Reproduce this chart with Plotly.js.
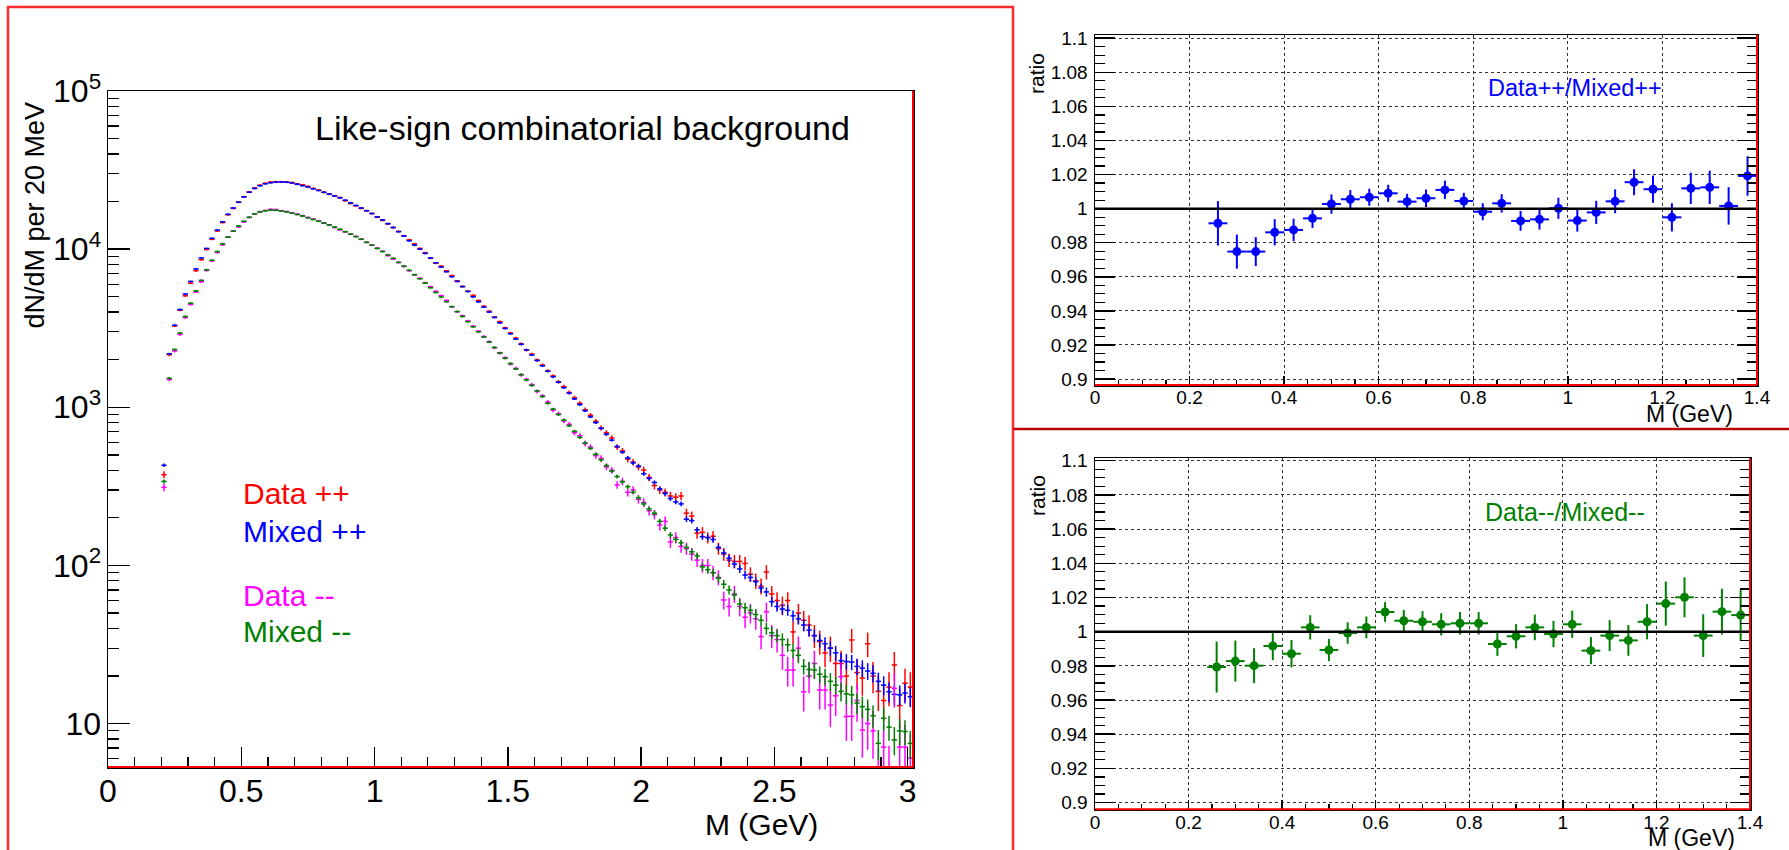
<!DOCTYPE html>
<html>
<head>
<meta charset="utf-8">
<script src="https://cdn.plot.ly/plotly-3.0.1.min.js"></script>
<style>
  html, body { margin: 0; padding: 0; background: #fff; }
  #chart { width: 1789px; height: 850px; }
</style>
</head>
<body>
<div id="chart"></div>
<script>
// ---------------- DATA ----------------
// Main panel: 20 MeV bins, first bin centre 0.21 GeV, last 3.01 GeV (141 bins)
const binStart = 0.21;
const binWidth = 0.02;

const mixedPP = [
  430, 2180, 3300, 4150, 5200, 6250, 7500, 8800, 10100, 11700, 13200, 14900, 16600, 18200, 19800,
  21400, 22900, 24200, 25200, 25900, 26300, 26500, 26600, 26500, 26200, 25700, 25200, 24700, 24100, 23500,
  22900, 22300, 21700, 21100, 20400, 19600, 18900, 18200, 17500, 16800,
  16000, 15300, 14500, 13700, 12900, 12100, 11300, 10600, 10000, 9400, 8800, 8200, 7700, 7200, 6700,
  6250, 5800, 5400, 5000, 4650, 4300, 4000, 3700, 3420, 3150,
  2920, 2700, 2500, 2310, 2140, 1975, 1830, 1690, 1560, 1440, 1330, 1230, 1130, 1040, 950,
  870, 800, 735, 675, 620, 565, 520, 478, 445, 425,
  380, 355, 335, 305, 285, 265, 252, 245, 196, 192, 168, 152, 150, 146, 130,
  120, 111, 102, 95, 87, 84, 79, 72, 68, 59,
  55, 53, 52, 48, 46, 42, 39, 36, 33.5, 32, 30, 28, 25, 24.7, 24.5,
  23, 22.4, 21.5, 20.8, 18.5, 17.5, 15.9, 15.3, 15.2, 15.6, 14.8
];
const dataPP = [
  375, 2150, 3270, 4110, 5070, 6090, 7310, 8580, 9960, 11540, 13030, 14720, 16500, 18100, 19850,
  21450, 23000, 24350, 25350, 26100, 26550, 26700, 26700, 26600, 26350, 25850, 25500, 24950, 24200, 23600,
  22850, 22250, 21750, 21200, 20250, 19450, 18800, 18100, 17500, 16800,
  15900, 15200, 14450, 13700, 12950, 12150, 11450, 10800, 10100, 9500, 8750, 8150, 7800, 7300, 6800,
  6300, 5800, 5420, 5100, 4730, 4350, 4050, 3720, 3480, 3180,
  2950, 2740, 2520, 2300, 2170, 1990, 1850, 1700, 1580, 1450, 1350, 1240, 1150, 1060, 965,
  890, 815, 740, 690, 640, 560, 530, 470, 450, 420,
  401, 360, 320, 300, 290, 275, 270, 275, 214, 205, 160, 162, 150, 153, 128,
  118, 108, 106, 106, 103, 88, 80, 74, 91, 66,
  60, 56, 60, 38, 50, 45, 42, 36, 33, 28, 30, 24, 24, 20, 33.8,
  21, 19.4, 32, 20, 16, 14, 17, 23.5, 13, 18, 17
];
const mixedMM = [
  340, 1525, 2320, 2950, 3750, 4550, 5450, 6350, 7400, 8500, 9650, 10800, 11900, 13000, 14000,
  15000, 15900, 16700, 17200, 17500, 17650, 17600, 17400, 17200, 16900, 16550, 16200, 15800, 15400, 15000,
  14600, 14200, 13800, 13350, 12900, 12450, 12000, 11550, 11050, 10600,
  10100, 9650, 9200, 8750, 8250, 7800, 7350, 6900, 6500, 6100, 5700, 5320, 4980, 4650, 4330,
  4030, 3750, 3480, 3230, 3000, 2780, 2580, 2390, 2210, 2040,
  1890, 1745, 1610, 1490, 1375, 1270, 1170, 1060, 975, 900, 830, 765, 705, 645, 595,
  550, 505, 465, 428, 395, 365, 338, 315, 290, 268,
  245, 228, 214, 190, 172, 156, 146, 139, 130, 122, 115, 98, 94, 90, 83,
  76, 70, 65, 57, 54, 52, 49, 45, 40, 37.5,
  36, 34, 31.5, 29, 27, 23, 22, 21.8, 20.5, 19.8, 18.5, 17.5, 16, 15.4, 15.2,
  13.5, 12.8, 12.3, 11.2, 7.5, 10.8, 9.5, 7.9, 9.0, 8.9, 7.5
];
const dataMM = [
  312, 1500, 2270, 2890, 3690, 4470, 5350, 6220, 7330, 8430, 9530, 10650, 11930, 13030, 13850,
  14850, 15880, 16680, 17250, 17530, 17850, 17800, 17500, 17300, 17000, 16650, 16270, 15870, 15480, 15070,
  14670, 14270, 13700, 13250, 12870, 12410, 12030, 11580, 11030, 10590,
  10140, 9690, 9100, 8650, 8230, 7780, 7310, 6870, 6540, 6130, 5790, 5410, 5080, 4740, 4320,
  4020, 3790, 3520, 3260, 3030, 2800, 2600, 2380, 2200, 2060,
  1880, 1760, 1600, 1500, 1390, 1260, 1180, 1080, 960, 910, 820, 780, 690, 660, 590,
  560, 495, 475, 420, 400, 323, 340, 290, 300, 262,
  250, 222, 210, 180, 190, 141, 150, 132, 128, 118, 108, 100, 100, 90, 84,
  60.5, 55, 66, 55, 47, 50, 46, 35.5, 51, 36,
  34, 27, 21.8, 21.8, 30, 15.9, 20, 24, 16.3, 16.3, 13.1, 15, 19.8, 11.1, 11.1,
  14, 9.1, 10, 9, 4.8, 7.1, 5, 16.7, 7.1, 7.1, 6.05
];
// statistical errors of the (normalised) mixed-event spectra
const mixedPPErr = [
  11, 26, 32, 35, 40, 43, 48, 52, 55, 59, 63, 67, 71, 74, 77,
  80, 83, 86, 87, 89, 89, 90, 90, 89, 89, 88, 87, 86, 85, 84, 83, 82, 81, 80, 79, 77, 76, 74, 73, 71,
  70, 68, 66, 64, 62, 60, 58, 57, 55, 53, 52, 50, 48, 47, 45, 43, 42, 40, 39, 37, 36, 35, 33, 32, 31,
  30, 29, 28, 26, 25, 24, 23, 22, 21, 20, 19, 19, 18, 17, 17, 16, 15, 15, 14, 13, 13, 12, 12, 12, 11,
  11, 10, 10, 9.6, 9.3, 9, 8.7, 8.6, 7.7, 7.6, 7.1, 6.8, 6.7, 6.6, 6.3, 6, 5.8, 5.6, 5.4, 5.1, 5, 4.9, 4.7, 4.5, 4.2,
  4.1, 4, 4, 3.8, 3.7, 3.6, 3.4, 3.3, 3.2, 3.1, 3.1, 3, 2.9, 2.8, 2.7, 2.7, 2.7, 2.6, 2.6, 2.5, 2.4, 2.3, 2.2, 2.2, 2.2, 2.1
];
const mixedMMErr = [
  10, 21, 26, 30, 34, 37, 41, 44, 47, 51, 54, 57, 60, 63, 65,
  67, 69, 71, 72, 73, 73, 73, 73, 72, 72, 71, 70, 69, 68, 67, 66, 65, 64, 63, 62, 61, 60, 59, 58, 57,
  55, 54, 53, 51, 50, 49, 47, 46, 45, 43, 42, 40, 39, 38, 36, 35, 34, 32, 31, 30, 29, 28, 27, 26, 25,
  24, 23, 22, 21, 20, 20, 19, 18, 17, 17, 16, 15, 15, 14, 14, 13, 13, 12, 12, 11, 11, 10, 10, 9.4, 9,
  8.6, 8.3, 8, 7.6, 7.2, 6.9, 6.6, 6.5, 6.3, 6.1, 5.9, 5.4, 5.3, 5.2, 5, 4.8, 4.6, 4.4, 4.2, 4, 4, 3.9, 3.7, 3.5, 3.4,
  3.3, 3.2, 3.1, 3, 2.9, 2.6, 2.6, 2.6, 2.5, 2.4, 2.4, 2.3, 2.2, 2.2, 2.1, 2, 2, 1.9, 1.8, 1.6, 1.8, 1.7, 1.6, 1.7, 1.6, 1.5
];

// Ratio panels: 40 MeV bins, centres 0.26 ... 1.38 GeV
const ratioStart = 0.26;
const ratioWidth = 0.04;
const ratioPP = [0.9914, 0.9748, 0.9748, 0.9861, 0.9875, 0.9943, 1.0027, 1.0055, 1.0067, 1.009,
  1.0041, 1.0061, 1.011, 1.0045, 0.9982, 1.0031, 0.9928, 0.9937, 1.0002, 0.993,
  0.9978, 1.0043, 1.0155, 1.0114, 0.9949, 1.0119, 1.0125, 1.0016, 1.0192];
const ratioPPErr = [0.013, 0.010, 0.0085, 0.0077, 0.0066, 0.0056, 0.0057, 0.0054, 0.005, 0.005,
  0.0046, 0.0052, 0.0054, 0.0048, 0.005, 0.0054, 0.0058, 0.006, 0.0062, 0.0065,
  0.0068, 0.007, 0.0076, 0.008, 0.0083, 0.0092, 0.0098, 0.011, 0.0116];
const ratioMM = [0.9793, 0.9828, 0.9801, 0.9916, 0.9871, 1.0025, 0.9893, 0.9992, 1.0025, 1.0115,
  1.0064, 1.0058, 1.0043, 1.0049, 1.0049, 0.9928, 0.9973, 1.0025, 0.9986, 1.0043,
  0.9889, 0.9977, 0.9949, 1.0058, 1.0164, 1.0201, 0.9977, 1.0117, 1.0097];
const ratioMMErr = [0.0149, 0.012, 0.0102, 0.0083, 0.008, 0.0071, 0.0065, 0.0063, 0.0064, 0.0058,
  0.0063, 0.0062, 0.0065, 0.0066, 0.0066, 0.007, 0.0071, 0.0075, 0.0077, 0.008,
  0.0079, 0.009, 0.009, 0.0103, 0.0129, 0.0117, 0.0125, 0.0134, 0.0148];

// Tick labels
const mainYTickVals = [10, 100, 1000, 10000, 100000];
const mainYTickText = ['10', '10<sup>2</sup>', '10<sup>3</sup>', '10<sup>4</sup>', '10<sup>5</sup>'];
const ratioYTickVals = [0.9, 0.92, 0.94, 0.96, 0.98, 1, 1.02, 1.04, 1.06, 1.08, 1.1];
const ratioYTickText = ['0.9', '0.92', '0.94', '0.96', '0.98', '1', '1.02', '1.04', '1.06', '1.08', '1.1'];

// Text labels
const mainTitle = 'Like-sign combinatorial background';
const legendItems = ['Data ++', 'Mixed ++', 'Data --', 'Mixed --'];
const ppLabel = 'Data++/Mixed++';
const mmLabel = 'Data--/Mixed--';

// ---------------- STYLE ----------------
const RED = '#ff0000', BLUE = '#0000ff', MAG = '#ff00ff', GRN = '#008000';
const FONT = 'Liberation Sans, Arial, Helvetica, sans-serif';

function histTrace(y, color, errY) {
  return {
    type: 'scatter', mode: 'markers', x0: binStart, dx: binWidth, y: y,
    xaxis: 'x', yaxis: 'y',
    marker: {size: 2, color: color},
    error_y: errY ? {type: 'data', array: errY, visible: true, color: color, thickness: 1.5, width: 0}
                  : {type: 'sqrt', visible: true, color: color, thickness: 1.5, width: 0},
    error_x: {type: 'constant', value: binWidth / 2, visible: true, color: color, thickness: 1.5, width: 0},
    hoverinfo: 'skip'
  };
}
function ratioTrace(y, err, color, xa, ya) {
  return {
    type: 'scatter', mode: 'markers', x0: ratioStart, dx: ratioWidth, y: y,
    xaxis: xa, yaxis: ya,
    marker: {size: 9, color: color, symbol: 'circle'},
    error_y: {type: 'data', array: err, visible: true, color: color, thickness: 2, width: 0},
    error_x: {type: 'constant', value: ratioWidth / 2, visible: true, color: color, thickness: 2, width: 0},
    hoverinfo: 'skip'
  };
}

const traces = [
  histTrace(dataPP, RED),
  histTrace(mixedPP, BLUE, mixedPPErr),
  histTrace(dataMM, MAG),
  histTrace(mixedMM, GRN, mixedMMErr),
  ratioTrace(ratioPP, ratioPPErr, BLUE, 'x2', 'y2'),
  ratioTrace(ratioMM, ratioMMErr, GRN, 'x3', 'y3')
];

// log minor tick positions (2..9 in each decade)
const logMinor = [];
for (let e = 0; e <= 4; e++) for (let d = 2; d <= 9; d++) logMinor.push(d * Math.pow(10, e));

const W = 1789, H = 850;
const px = v => v / W;
const py = v => (H - v) / H;

function ratioX(domain) {
  return {
    domain: domain, range: [0, 1.4], dtick: 0.2, tick0: 0,
    ticks: 'inside', ticklen: 9, tickwidth: 1.5, tickcolor: '#000',
    minor: {dtick: 0.05, ticks: 'inside', ticklen: 5, tickwidth: 1.2, tickcolor: '#000', showgrid: false},
    showgrid: true, griddash: 'dot', gridcolor: '#333', gridwidth: 1,
    zeroline: false, showline: true, mirror: true, linecolor: '#000', linewidth: 1.5,
    tickfont: {size: 19, family: FONT, color: '#000'}, ticklabelstandoff: -5
  };
}
function ratioY(domain, range) {
  return {
    domain: domain, range: range, tickmode: 'array', tickvals: ratioYTickVals, ticktext: ratioYTickText,
    ticks: 'inside', ticklen: 20, tickwidth: 1.5, tickcolor: '#000',
    minor: {dtick: 0.005, tick0: 0.9, ticks: 'inside', ticklen: 10, tickwidth: 1.2, tickcolor: '#000', showgrid: false},
    showgrid: true, griddash: 'dot', gridcolor: '#333', gridwidth: 1,
    zeroline: false, showline: true, mirror: 'ticks', linecolor: '#000', linewidth: 1.5,
    tickfont: {size: 19, family: FONT, color: '#000'}, ticklabelstandoff: 2
  };
}

const layout = {
  width: W, height: H,
  margin: {l: 0, r: 0, t: 0, b: 0},
  paper_bgcolor: '#fff', plot_bgcolor: '#fff',
  showlegend: false,
  font: {family: FONT, color: '#000'},
  xaxis: {
    domain: [px(108), px(913)], anchor: 'y', range: [0, 3.02], dtick: 0.5, tick0: 0,
    ticks: 'inside', ticklen: 20, tickwidth: 1.5, tickcolor: '#000',
    minor: {dtick: 0.1, ticks: 'inside', ticklen: 10, tickwidth: 1.2, tickcolor: '#000'},
    showgrid: false, zeroline: false, showline: true, mirror: true, linecolor: '#000', linewidth: 1.5,
    tickfont: {size: 32, family: FONT, color: '#000'}, ticklabelstandoff: -5
  },
  yaxis: {
    domain: [py(767), py(91)], anchor: 'x', type: 'log', range: [0.7255, 5],
    tickmode: 'array', tickvals: mainYTickVals, ticktext: mainYTickText,
    ticks: 'inside', ticklen: 22, tickwidth: 1.5, tickcolor: '#000',
    minor: {tickmode: 'array', tickvals: logMinor, ticks: 'inside', ticklen: 11, tickwidth: 1.2, tickcolor: '#000'},
    showgrid: false, zeroline: false, showline: true, mirror: true, linecolor: '#000', linewidth: 1.5,
    tickfont: {size: 32, family: FONT, color: '#000'}, ticklabelstandoff: -1
  },
  xaxis2: Object.assign(ratioX([px(1095), px(1757)]), {anchor: 'y2'}),
  yaxis2: Object.assign(ratioY([py(385), py(35)], [0.8965, 1.1019]), {anchor: 'x2'}),
  xaxis3: Object.assign(ratioX([px(1095), px(1750)]), {anchor: 'y3'}),
  yaxis3: Object.assign(ratioY([py(809.3), py(458.3)], [0.8961, 1.1014]), {anchor: 'x3'}),
  shapes: [
    // unity lines in ratio panels
    {type: 'line', xref: 'x2', yref: 'y2', x0: 0, x1: 1.4, y0: 1, y1: 1, line: {color: '#000', width: 2.5}},
    {type: 'line', xref: 'x3', yref: 'y3', x0: 0, x1: 1.4, y0: 1, y1: 1, line: {color: '#000', width: 2.5}},
    // red bottom/right frame edges
    {type: 'line', xref: 'x domain', yref: 'y domain', x0: 0, x1: 1, y0: 0, y1: 0, line: {color: RED, width: 2}},
    {type: 'line', xref: 'x domain', yref: 'y domain', x0: 1, x1: 1, y0: 0, y1: 1, line: {color: RED, width: 2}},
    {type: 'line', xref: 'x2 domain', yref: 'y2 domain', x0: 0, x1: 1, y0: 0, y1: 0, line: {color: RED, width: 2}},
    {type: 'line', xref: 'x2 domain', yref: 'y2 domain', x0: 1, x1: 1, y0: 0, y1: 1, line: {color: RED, width: 2}},
    {type: 'line', xref: 'x3 domain', yref: 'y3 domain', x0: 0, x1: 1, y0: 0, y1: 0, line: {color: RED, width: 2}},
    {type: 'line', xref: 'x3 domain', yref: 'y3 domain', x0: 1, x1: 1, y0: 0, y1: 1, line: {color: RED, width: 2}},
    // pad borders
    {type: 'rect', xref: 'paper', yref: 'paper', x0: px(8), x1: px(1013), y0: -0.02, y1: py(7),
     line: {color: '#ff2a2a', width: 2.5}, fillcolor: 'rgba(0,0,0,0)'},
    {type: 'line', xref: 'paper', yref: 'paper', x0: px(1013), x1: 1, y0: py(429), y1: py(429),
     line: {color: '#b80000', width: 2.5}}
  ],
  annotations: [
    {xref: 'paper', yref: 'paper', x: px(313), y: py(128.5), xanchor: 'left', yanchor: 'middle',
     text: mainTitle, showarrow: false, font: {size: 34, family: FONT, color: '#000'}},
    {xref: 'paper', yref: 'paper', x: px(240.5), y: py(493), xanchor: 'left', yanchor: 'middle',
     text: legendItems[0], showarrow: false, font: {size: 30, family: FONT, color: RED}},
    {xref: 'paper', yref: 'paper', x: px(240.5), y: py(531), xanchor: 'left', yanchor: 'middle',
     text: legendItems[1], showarrow: false, font: {size: 30, family: FONT, color: BLUE}},
    {xref: 'paper', yref: 'paper', x: px(240.5), y: py(595), xanchor: 'left', yanchor: 'middle',
     text: legendItems[2], showarrow: false, font: {size: 30, family: FONT, color: MAG}},
    {xref: 'paper', yref: 'paper', x: px(240.5), y: py(631), xanchor: 'left', yanchor: 'middle',
     text: legendItems[3], showarrow: false, font: {size: 30, family: FONT, color: GRN}},
    {xref: 'paper', yref: 'paper', x: px(34), y: py(215.5), xanchor: 'center', yanchor: 'middle', textangle: -90,
     text: 'dN/dM per 20 MeV', showarrow: false, font: {size: 27, family: FONT, color: '#000'}},
    {xref: 'paper', yref: 'paper', x: px(820), y: py(824), xanchor: 'right', yanchor: 'middle',
     text: 'M (GeV)', showarrow: false, font: {size: 30, family: FONT, color: '#000'}},
    {xref: 'paper', yref: 'paper', x: px(1037), y: py(74), xanchor: 'center', yanchor: 'middle', textangle: -90,
     text: 'ratio', showarrow: false, font: {size: 21, family: FONT, color: '#000'}},
    {xref: 'paper', yref: 'paper', x: px(1037), y: py(496), xanchor: 'center', yanchor: 'middle', textangle: -90,
     text: 'ratio', showarrow: false, font: {size: 21, family: FONT, color: '#000'}},
    {xref: 'paper', yref: 'paper', x: px(1735), y: py(414), xanchor: 'right', yanchor: 'middle',
     text: 'M (GeV)', showarrow: false, font: {size: 23, family: FONT, color: '#000'}},
    {xref: 'paper', yref: 'paper', x: px(1737), y: py(838), xanchor: 'right', yanchor: 'middle',
     text: 'M (GeV)', showarrow: false, font: {size: 23, family: FONT, color: '#000'}},
    {xref: 'paper', yref: 'paper', x: px(1575), y: py(88), xanchor: 'center', yanchor: 'middle',
     text: ppLabel, showarrow: false, font: {size: 23.5, family: FONT, color: BLUE}},
    {xref: 'paper', yref: 'paper', x: px(1565), y: py(511.7), xanchor: 'center', yanchor: 'middle',
     text: mmLabel, showarrow: false, font: {size: 25, family: FONT, color: GRN}}
  ]
};

Plotly.newPlot('chart', traces, layout, {staticPlot: true, displayModeBar: false});
</script>
</body>
</html>
